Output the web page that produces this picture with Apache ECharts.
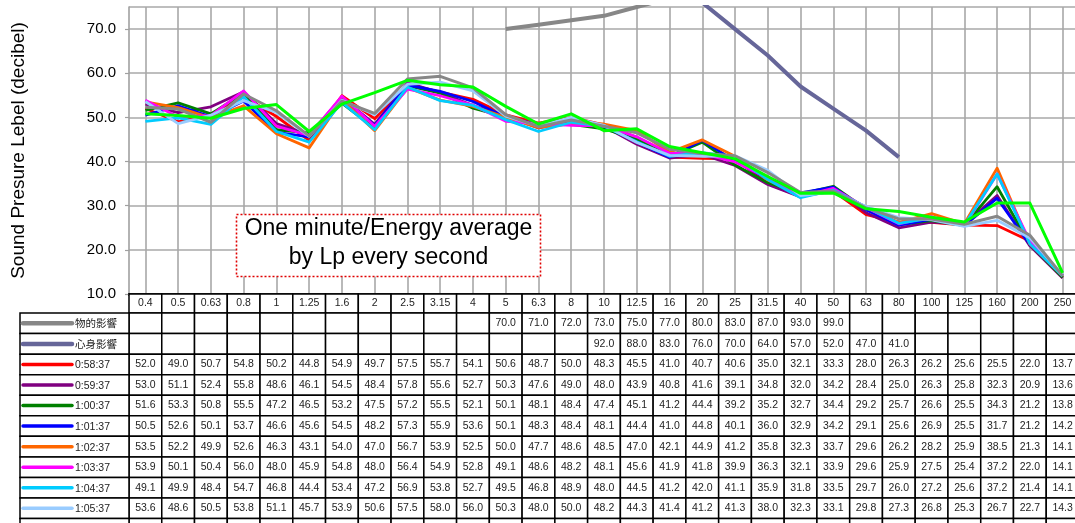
<!DOCTYPE html>
<html>
<head>
<meta charset="utf-8">
<script src="https://cdn.jsdelivr.net/npm/echarts@6/dist/echarts.min.js"></script>
<style>
html,body{margin:0;padding:0;background:#fff;}
#c{width:1075px;height:523px;}
</style>
</head>
<body>
<div id="c"></div>
<script>
// ---------- data ----------
const categories = ['0.4','0.5','0.63','0.8','1','1.25','1.6','2','2.5','3.15','4','5','6.3','8','10','12.5','16','20','25','31.5','40','50','63','80','100','125','160','200','250'];
const yTicks = [10, 20, 30, 40, 50, 60, 70];

const physical = [null,null,null,null,null,null,null,null,null,null,null,70.0,71.0,72.0,73.0,75.0,77.0,80.0,83.0,87.0,93.0,99.0,null,null,null,null,null,null,null];
const psychological = [null,null,null,null,null,null,null,null,null,null,null,null,null,null,92.0,88.0,83.0,76.0,70.0,64.0,57.0,52.0,47.0,41.0,null,null,null,null,null];

const t0_58_37 = [52.0,49.0,50.7,54.8,50.2,44.8,54.9,49.7,57.5,55.7,54.1,50.6,48.7,50.0,48.3,45.5,41.0,40.7,40.6,35.0,32.1,33.3,28.0,26.3,26.2,25.6,25.5,22.0,13.7];
const t0_59_37 = [53.0,51.1,52.4,55.8,48.6,46.1,54.5,48.4,57.8,55.6,52.7,50.3,47.6,49.0,48.0,43.9,40.8,41.6,39.1,34.8,32.0,34.2,28.4,25.0,26.3,25.8,32.3,20.9,13.6];
const t1_00_37 = [51.6,53.3,50.8,55.5,47.2,46.5,53.2,47.5,57.2,55.5,52.1,50.1,48.1,48.4,47.4,45.1,41.2,44.4,39.2,35.2,32.7,34.4,29.2,25.7,26.6,25.5,34.3,21.2,13.8];
const t1_01_37 = [50.5,52.6,50.1,53.7,46.6,45.6,54.5,48.2,57.3,55.9,53.6,50.1,48.3,48.4,48.1,44.4,41.0,44.8,40.1,36.0,32.9,34.2,29.1,25.6,26.9,25.5,31.7,21.2,14.2];
const t1_02_37 = [53.5,52.2,49.9,52.6,46.3,43.1,54.0,47.0,56.7,53.9,52.5,50.0,47.7,48.6,48.5,47.0,42.1,44.9,41.2,35.8,32.3,33.7,29.6,26.2,28.2,25.9,38.5,21.3,14.1];
const t1_03_37 = [53.9,50.1,50.4,56.0,48.0,45.9,54.8,48.0,56.4,54.9,52.8,49.1,48.6,48.2,48.1,45.6,41.9,41.8,39.9,36.3,32.1,33.9,29.6,25.9,27.5,25.4,37.2,22.0,14.1];
const t1_04_37 = [49.1,49.9,48.4,54.7,46.8,44.4,53.4,47.2,56.9,53.8,52.7,49.5,46.8,48.9,48.0,44.5,41.2,42.0,41.1,35.9,31.8,33.5,29.7,26.0,27.2,25.6,37.2,21.4,14.1];
const t1_05_37 = [53.6,48.6,50.5,53.8,51.1,45.7,53.9,50.6,57.5,58.0,56.0,50.3,48.0,50.0,48.2,44.3,41.4,41.2,41.3,38.0,32.3,33.1,29.8,27.3,26.8,25.3,26.7,22.7,14.3];
const t1_06_37 = [52.3,51.9,48.9,55.3,51.5,45.8,53.7,50.9,58.7,59.3,56.7,50.6,47.9,49.4,48.0,46.5,42.8,41.8,41.3,37.5,33.0,33.3,29.5,27.0,27.0,25.8,27.6,23.3,14.1];
const t1_07_37 = [50.8,50.4,49.8,52.0,52.9,46.8,53.0,55.6,58.4,57.4,56.9,52.5,48.5,50.8,47.0,47.4,43.4,42.0,40.6,36.6,32.8,32.9,29.3,28.7,27.4,26.3,30.6,30.6,14.8];

const seriesNames = ['物的影響','心身影響','0:58:37','0:59:37','1:00:37','1:01:37','1:02:37','1:03:37','1:04:37','1:05:37','1:06:37','1:07:37'];
const seriesData = [physical, psychological, t0_58_37, t0_59_37, t1_00_37, t1_01_37, t1_02_37, t1_03_37, t1_04_37, t1_05_37, t1_06_37, t1_07_37];
const seriesColors = ['#878787','#666699','#ff0000','#800080','#008000','#0000ff','#ff6600','#ff00ff','#00ccff','#99ccff','#878787','#00ff00'];
const seriesWidths = [4, 4, 2.8, 2.8, 2.8, 2.8, 2.8, 2.8, 2.8, 2.8, 3, 3];

const yAxisName = 'Sound Presure Lebel (decibel)';
const noteLines = ['One minute/Energy average', 'by Lp every second'];

// ---------- layout ----------
const FONT = '"Liberation Sans", Arial, "Noto Sans CJK JP", sans-serif';
const PLOT_L = 129, PLOT_T = 7, PLOT_W = 950, PLOT_H = 287;
const ROW_H = 20.55;
const tableRows = ['hdr'].concat(seriesNames);

// table cell data
const cellData = [];
const cellText = [];
for (let r = 0; r < tableRows.length; r++) {
  for (let c = 0; c < categories.length; c++) {
    cellData.push([c, r]);
    if (r === 0) cellText.push(categories[c]);
    else {
      const v = seriesData[r - 1][c];
      cellText.push(v == null ? '' : v.toFixed(1));
    }
  }
}
const legendData = [];
for (let r = 1; r < tableRows.length; r++) legendData.push([0, r]);

const chart = echarts.init(document.getElementById('c'), null, {renderer: 'canvas'});

const lineSeries = seriesNames.map((n, i) => ({
  name: n,
  type: 'line',
  xAxisIndex: 0, yAxisIndex: 0,
  data: seriesData[i],
  symbol: 'none',
  connectNulls: false,
  clip: true,
  lineStyle: {color: seriesColors[i], width: seriesWidths[i], join: 'round'},
  itemStyle: {color: seriesColors[i]},
  emphasis: {disabled: true},
  animation: false,
  z: 3
}));

const option = {
  animation: false,
  backgroundColor: '#fff',
  grid: [
    {left: PLOT_L, top: PLOT_T, width: PLOT_W, height: PLOT_H, containLabel: false, outerBoundsMode: 'none'},
    {left: PLOT_L, top: 292.5, width: PLOT_W, height: ROW_H * tableRows.length, containLabel: false, outerBoundsMode: 'none'}
  ],
  xAxis: [
    {
      type: 'category', gridIndex: 0, data: categories, boundaryGap: true,
      axisLabel: {show: false}, axisTick: {show: false},
      axisLine: {show: true, lineStyle: {color: '#000', width: 2.5}},
      splitLine: {show: true, alignWithLabel: true, lineStyle: {color: '#a8a8a8', width: 1.6}}
    },
    {
      type: 'category', gridIndex: 1, data: categories, boundaryGap: true, show: false
    }
  ],
  yAxis: [
    {
      type: 'value', gridIndex: 0, min: 10, max: 75, interval: 10,
      name: yAxisName, nameLocation: 'middle', nameGap: 101,
      nameTextStyle: {fontFamily: FONT, fontSize: 19, color: '#000'},
      axisLine: {show: true, lineStyle: {color: '#a0a0a0', width: 1.6}},
      axisTick: {show: true, length: 4, lineStyle: {color: '#a0a0a0', width: 1.2}},
      axisLabel: {formatter: v => v.toFixed(1), showMaxLabel: false, fontFamily: FONT, fontSize: 15, color: '#000', margin: 13},
      splitLine: {show: true, lineStyle: {color: '#a8a8a8', width: 1.6}}
    },
    {
      type: 'category', gridIndex: 1, data: tableRows, inverse: true, boundaryGap: true, show: false
    }
  ],
  series: lineSeries.concat([
    {
      type: 'custom', xAxisIndex: 1, yAxisIndex: 1, data: cellData, clip: false, silent: true, z: 5,
      encode: {x: 0, y: 1},
      renderItem: function (params, api) {
        const c = api.value(0), r = api.value(1);
        const p = api.coord([c, r]);
        const s = api.size([1, 1]);
        let y0 = p[1] - s[1] / 2, h = s[1];
        if (r === 0) { y0 += 1.5; h -= 1.5; }
        const txt = cellText[params.dataIndex];
        return {
          type: 'group',
          children: [
            {type: 'rect', shape: {x: p[0] - s[0] / 2, y: y0, width: s[0], height: h},
             style: {fill: '#fff', stroke: '#000', lineWidth: 1.5}},
            {type: 'text', style: {text: txt, x: p[0], y: y0 + h / 2, align: 'center', verticalAlign: 'middle',
             font: '10.5px ' + FONT, fill: '#222'}}
          ]
        };
      }
    },
    {
      type: 'custom', xAxisIndex: 1, yAxisIndex: 1, data: legendData, clip: false, silent: true, z: 5,
      encode: {x: 0, y: 1},
      renderItem: function (params, api) {
        const r = api.value(1);
        const p = api.coord([0, r]);
        const s = api.size([1, 1]);
        const right = p[0] - s[0] / 2;
        const left = 20;
        const y0 = p[1] - s[1] / 2;
        const idx = r - 1;
        const lw = idx < 2 ? 4.5 : 3.5;
        return {
          type: 'group',
          children: [
            {type: 'rect', shape: {x: left, y: y0, width: right - left, height: s[1]},
             style: {fill: '#fff', stroke: '#000', lineWidth: 1.5}},
            {type: 'line', shape: {x1: left + 3, y1: p[1], x2: left + 52, y2: p[1]},
             style: {stroke: seriesColors[idx], lineWidth: lw, lineCap: 'round'}},
            {type: 'text', style: {text: seriesNames[idx], x: left + 55, y: p[1] + 1, align: 'left', verticalAlign: 'middle',
             font: '10.5px ' + FONT, fill: '#222'}}
          ]
        };
      }
    }
  ]),
  graphic: [
    {
      type: 'rect', z: 100, zlevel: 1, shape: {x: 236.5, y: 214.5, width: 304, height: 62},
      style: {fill: '#ffffff', stroke: '#e00000', lineWidth: 1.6, lineDash: [2, 2]}
    },
    {
      type: 'text', z: 101, zlevel: 1, x: 388.5, y: 229,
      style: {text: noteLines[0], align: 'center', verticalAlign: 'middle', font: '23px ' + FONT, fill: '#000'}
    },
    {
      type: 'text', z: 101, zlevel: 1, x: 388.5, y: 258,
      style: {text: noteLines[1], align: 'center', verticalAlign: 'middle', font: '23px ' + FONT, fill: '#000'}
    }
  ]
};
chart.setOption(option);
</script>
</body>
</html>
